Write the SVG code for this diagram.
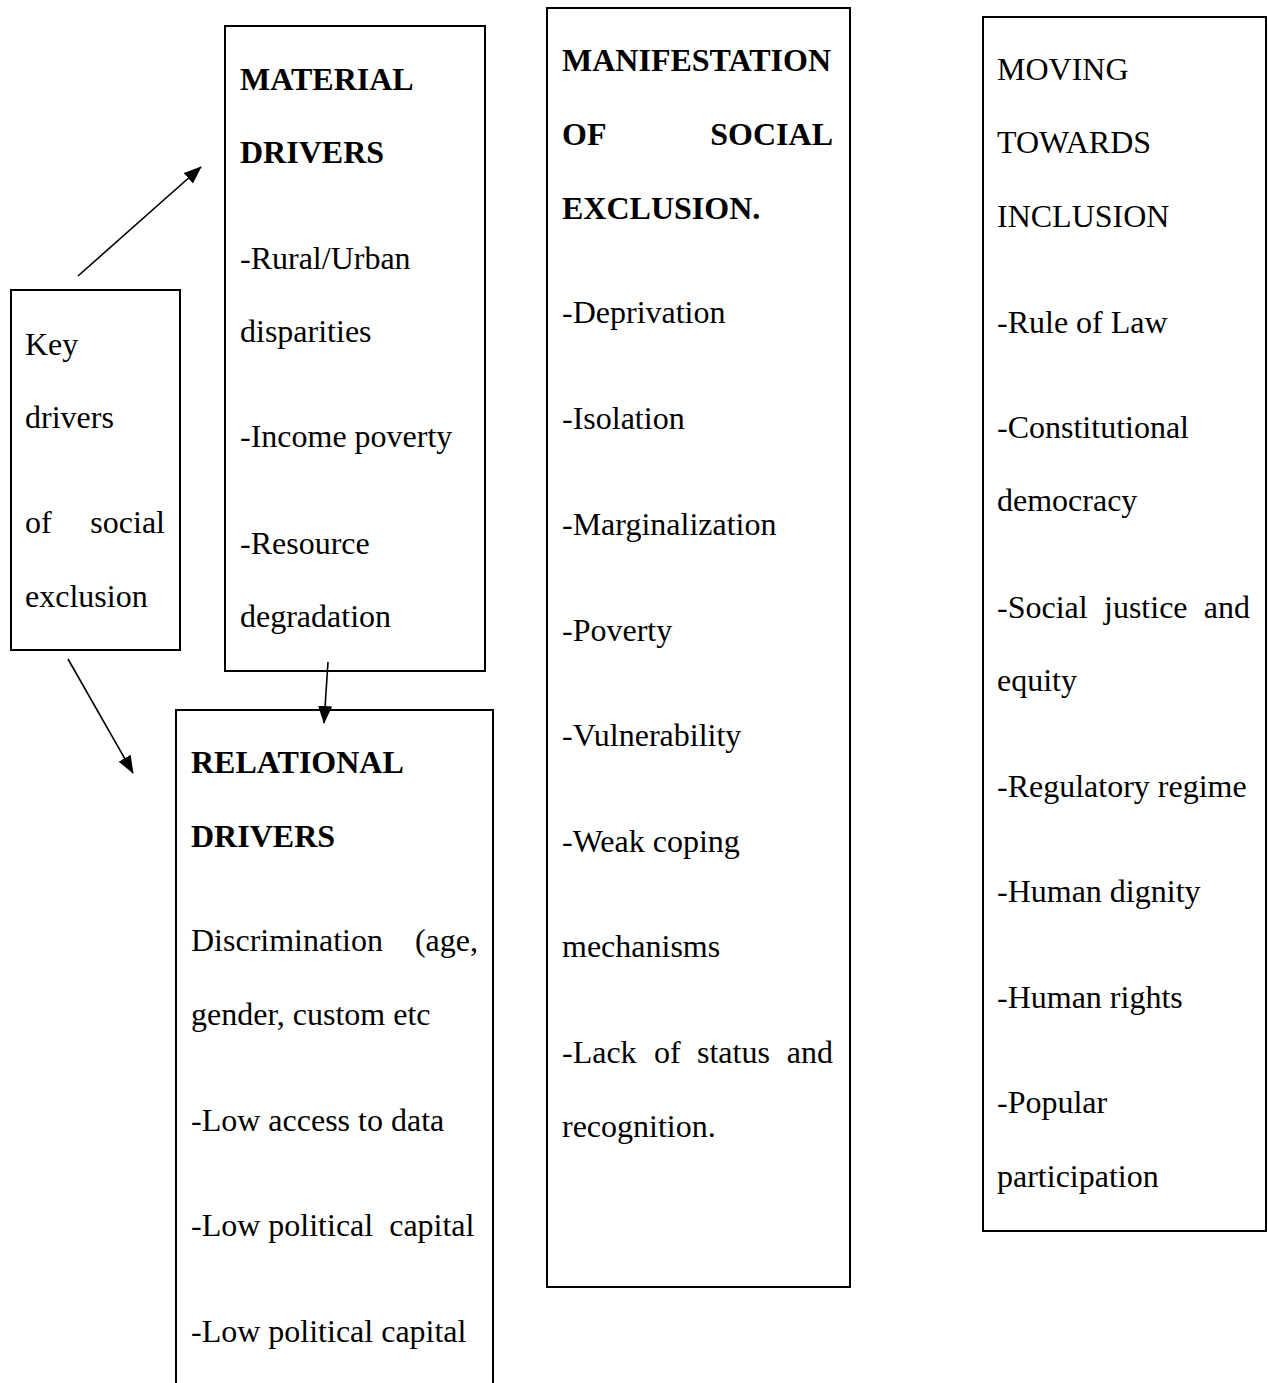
<svg xmlns="http://www.w3.org/2000/svg" width="1268" height="1383" viewBox="0 0 1268 1383">
<style>
.box{fill:none;stroke:#000;stroke-width:2}
.t{font-family:"Liberation Serif","Times New Roman",serif;font-size:32px;fill:#000}
.b{font-weight:bold}
.c{stroke:#000;stroke-width:1.6;fill:none}
</style>
<defs>
<marker id="ah" markerUnits="userSpaceOnUse" markerWidth="18" markerHeight="14" refX="17" refY="7" orient="auto" viewBox="0 0 18 14">
<path d="M0,0 L18,7 L0,14 z" fill="#000"/>
</marker>
</defs>
<rect width="1268" height="1383" fill="#fff"/>
<g id="key">
<rect class="box" x="11" y="290" width="169" height="360"/>
<text class="t" x="25" y="355">Key</text>
<text class="t" x="25" y="428">drivers</text>
<text class="t" x="25" y="533">of</text>
<text class="t" x="165" y="533" text-anchor="end">social</text>
<text class="t" x="25" y="607">exclusion</text>
</g>
<g id="material">
<rect class="box" x="225" y="26" width="260" height="645"/>
<text class="t b" x="240" y="90">MATERIAL</text>
<text class="t b" x="240" y="163">DRIVERS</text>
<text class="t" x="240" y="269">-Rural/Urban</text>
<text class="t" x="240" y="342">disparities</text>
<text class="t" x="240" y="447">-Income poverty</text>
<text class="t" x="240" y="554">-Resource</text>
<text class="t" x="240" y="627">degradation</text>
</g>
<g id="relational">
<path class="box" d="M176,1400 V710 H493 V1400"/>
<text class="t b" x="191" y="773">RELATIONAL</text>
<text class="t b" x="191" y="847">DRIVERS</text>
<text class="t" x="191" y="951">Discrimination</text>
<text class="t" x="478" y="951" text-anchor="end">(age,</text>
<text class="t" x="191" y="1025">gender, custom etc</text>
<text class="t" x="191" y="1131">-Low access to data</text>
<text class="t" x="191" y="1236" xml:space="preserve">-Low political  capital</text>
<text class="t" x="191" y="1342">-Low political capital</text>
</g>
<g id="manifestation">
<rect class="box" x="547" y="8" width="303" height="1279"/>
<text class="t b" x="562" y="71">MANIFESTATION</text>
<text class="t b" x="562" y="145">OF</text>
<text class="t b" x="833" y="145" text-anchor="end">SOCIAL</text>
<text class="t b" x="562" y="219">EXCLUSION.</text>
<text class="t" x="562" y="323">-Deprivation</text>
<text class="t" x="562" y="429">-Isolation</text>
<text class="t" x="562" y="535">-Marginalization</text>
<text class="t" x="562" y="641">-Poverty</text>
<text class="t" x="562" y="746">-Vulnerability</text>
<text class="t" x="562" y="852">-Weak coping</text>
<text class="t" x="562" y="957">mechanisms</text>
<text class="t" y="1063"><tspan x="562">-Lack</tspan><tspan x="654">of</tspan><tspan x="697">status</tspan></text>
<text class="t" x="833" y="1063" text-anchor="end">and</text>
<text class="t" x="562" y="1137">recognition.</text>
</g>
<g id="inclusion">
<rect class="box" x="983" y="17" width="283" height="1214"/>
<text class="t" x="997" y="80">MOVING</text>
<text class="t" x="997" y="153">TOWARDS</text>
<text class="t" x="997" y="227">INCLUSION</text>
<text class="t" x="997" y="333">-Rule of Law</text>
<text class="t" x="997" y="438">-Constitutional</text>
<text class="t" x="997" y="511">democracy</text>
<text class="t" y="618"><tspan x="997">-Social</tspan><tspan x="1104">justice</tspan></text>
<text class="t" x="1250" y="618" text-anchor="end">and</text>
<text class="t" x="997" y="691">equity</text>
<text class="t" x="997" y="797">-Regulatory regime</text>
<text class="t" x="997" y="902">-Human dignity</text>
<text class="t" x="997" y="1008">-Human rights</text>
<text class="t" x="997" y="1113">-Popular</text>
<text class="t" x="997" y="1187">participation</text>
</g>
<g id="connectors">
<line class="c" x1="78" y1="276" x2="201" y2="167" marker-end="url(#ah)"/>
<line class="c" x1="68" y1="659" x2="133" y2="773" marker-end="url(#ah)"/>
<line class="c" x1="328" y1="662" x2="324" y2="723" marker-end="url(#ah)"/>
</g>
</svg>
